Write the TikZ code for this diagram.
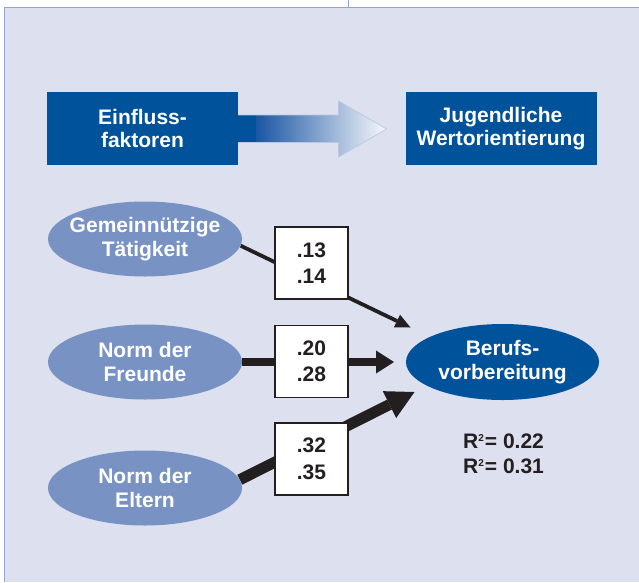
\documentclass[tikz,border=0pt]{standalone}
\usepackage{fontspec}
\setmainfont{Liberation Sans}
\usetikzlibrary{arrows.meta,shapes.geometric}
\definecolor{panelbg}{HTML}{DDE0EF}
\definecolor{panelline}{HTML}{93A3D2}
\definecolor{darkblue}{HTML}{00529B}
\definecolor{lightblue}{HTML}{7892C4}
\definecolor{inkblack}{HTML}{231F20}
\definecolor{arrowline}{HTML}{BCC6E3}
\definecolor{shadeA}{HTML}{1A56A3}
\definecolor{shadeB}{HTML}{A9B6DC}
\definecolor{shadeC}{HTML}{FAFAFD}
\pgfdeclarelayer{bglayer}
\pgfdeclarelayer{edgelayer}
\pgfsetlayers{bglayer,edgelayer,main}
\newcommand{\sqmark}{\raisebox{0.62ex}{\fontsize{10}{10}\selectfont 2}}
\begin{document}
\begin{tikzpicture}[x=1pt,y=-1pt,
  darkbox/.style={rectangle, fill=darkblue, text=white, minimum width=191pt,
    minimum height=73pt, inner sep=0pt, align=center,
    font=\fontsize{21}{23}\selectfont\bfseries},
  lightell/.style={ellipse, fill=lightblue, text=white, minimum width=194pt,
    minimum height=75pt, inner xsep=-25pt, inner ysep=0pt, align=center,
    font=\fontsize{21}{24}\selectfont\bfseries},
  darkell/.style={ellipse, fill=darkblue, text=white, minimum width=193pt,
    minimum height=76pt, inner xsep=-25pt, inner ysep=0pt, align=center,
    font=\fontsize{21}{24}\selectfont\bfseries},
  valbox/.style={rectangle, draw=inkblack, line width=1.3pt, fill=white,
    text=inkblack, minimum width=73pt, minimum height=72pt, inner sep=0pt,
    align=center, font=\fontsize{21}{26.5}\selectfont\bfseries},
  rtext/.style={anchor=base west, inner sep=0pt, text=inkblack,
    font=\fontsize{21}{24}\selectfont\bfseries},
  thinpath/.style={draw=inkblack, line width=3.8pt,
    -{Triangle[length=15pt,width=14pt,line width=0pt]}},
  midpath/.style={draw=inkblack, line width=8.5pt,
    -{Triangle[length=18pt,width=23pt,line width=0pt]}},
  thickpath/.style={draw=inkblack, line width=11pt,
    -{Triangle[length=28pt,width=30pt,line width=0pt]}}
]
\useasboundingbox (0,0) rectangle (639,582);

% background panel
\begin{pgfonlayer}{bglayer}
\fill[white] (0,0) rectangle (639,582);
\fill[panelbg] (4.5,7.5) rectangle (639,582);
\draw[panelline, line width=1.2pt] (4.5,582) -- (4.5,7.5) -- (639,7.5);
\draw[panelline, line width=0.8pt] (348.5,0) -- (348.5,7.5);
\end{pgfonlayer}

% top row
\node[darkbox] (ein) at (142.5,128.5) {Einfluss-\\faktoren};
\node[darkbox] (jug) at (501,128.5) {Jugendliche\\Wertorientierung};

% gradient arrow between the top boxes
\begin{scope}
  \clip (237.5,115) -- (338.5,115) -- (338.5,101) -- (386.5,129)
        -- (338.5,157) -- (338.5,142.5) -- (237.5,142.5) -- cycle;
  \fill[darkblue] (237,100) rectangle (257,160);
  \shade[left color=shadeA, middle color=shadeB, right color=shadeC]
        (256,100) rectangle (388,160);
\end{scope}
\draw[arrowline, line width=0.7pt, line join=miter]
  (ein.east |- 0,115) -- (338.5,115) -- (338.5,101) -- (386.5,129)
  -- (338.5,157) -- (338.5,142.5) -- (ein.east |- 0,142.5);

% predictors
\node[lightell] (gem) at (145,239) {Gemeinnützige\\Tätigkeit};
\node[lightell] (fre) at (145,362) {Norm der\\Freunde};
\node[lightell] (elt) at (145,488) {Norm der\\Eltern};

% outcome
\node[darkell] (ber) at (502.5,362) {Berufs-\\vorbereitung};

% coefficient boxes
\node[valbox] (v1) at (311.5,263) {.13\\.14};
\node[valbox] (v2) at (311.5,361.5) {.20\\.28};
\node[valbox] (v3) at (311.5,459) {.32\\.35};

% arrow end points (free ends near the outcome)
\coordinate (t1) at (410.5,327.5);
\coordinate (t2) at (394,362);
\coordinate (t3) at (414.5,392);

\begin{pgfonlayer}{edgelayer}
\draw[thinpath] (gem.-4) -- (t1);
\draw[midpath] (fre.east) -- (t2);
\draw[thickpath] (elt.5) -- (t3);
\end{pgfonlayer}

% R squared
\node[rtext] (r1) at (463,448) {R\sqmark\kern1pt= 0.22};
\node[rtext] (r2) at (463,473) {R\sqmark\kern1pt= 0.31};
\end{tikzpicture}
\end{document}
